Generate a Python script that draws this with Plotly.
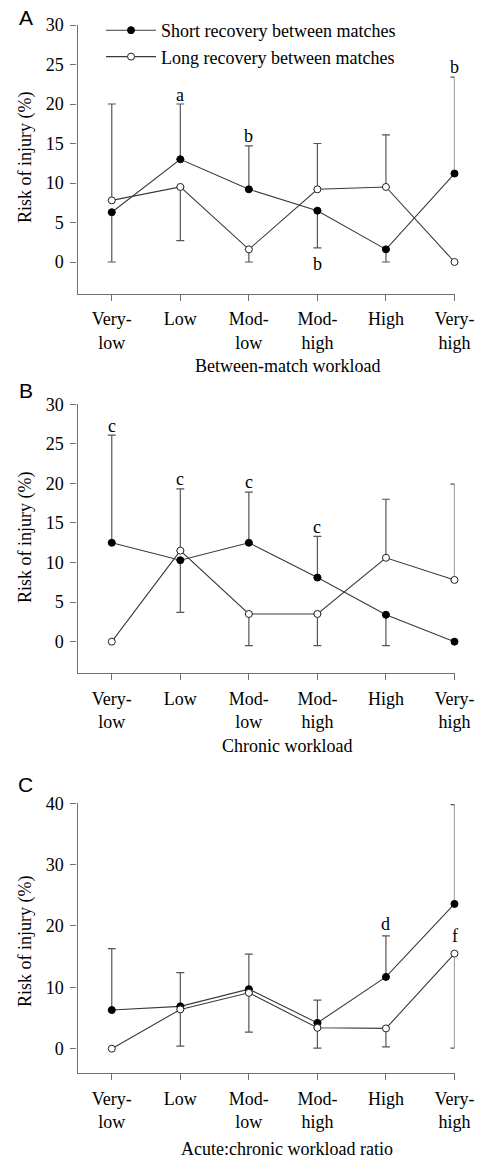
import plotly.graph_objects as go

# ---------------- data ----------------
categories = ["Very-<br>low", "Low", "Mod-<br>low", "Mod-<br>high", "High", "Very-<br>high"]
series_names = ["Short recovery between matches", "Long recovery between matches"]

# Panel A: between-match workload
a_short = [6.3, 13.0, 9.2, 6.5, 1.6, 11.2]
a_long = [7.8, 9.5, 1.6, 9.2, 9.5, 0.0]
a_short_upper = [None, 20.0, 14.7, None, None, 23.4]
a_short_lower = [0.0, None, None, 1.8, 0.0, None]
a_long_upper = [20.0, None, None, 15.0, 16.1, None]
a_long_lower = [None, 2.7, 0.0, None, None, None]
a_letters = [("a", 1, 21.2), ("b", 2, 15.9), ("b", 3, -0.2), ("b", 5, 24.7)]

# Panel B: chronic workload
b_short = [12.5, 10.3, 12.5, 8.1, 3.4, 0.0]
b_long = [0.0, 11.5, 3.5, 3.5, 10.6, 7.8]
b_short_upper = [26.1, None, 18.9, 13.3, None, None]
b_short_lower = [None, 3.7, None, None, -0.5, None]
b_long_upper = [None, 19.3, None, None, 18.0, 19.9]
b_long_lower = [None, None, -0.5, -0.5, None, None]
b_letters = [("c", 0, 27.2), ("c", 1, 20.5), ("c", 2, 20.2), ("c", 3, 14.5)]

# Panel C: acute:chronic workload ratio
c_short = [6.3, 6.9, 9.7, 4.2, 11.7, 23.6]
c_long = [0.0, 6.4, 9.1, 3.4, 3.3, 15.5]
c_short_upper = [16.3, 12.4, 15.4, 7.9, 18.4, 39.8]
c_short_lower = [None, None, None, None, None, None]
c_long_upper = [None, None, None, None, None, None]
c_long_lower = [None, 0.4, 2.7, 0.1, 0.3, 0.1]
c_letters = [("d", 4, 20.3), ("e", 5, 41.4), ("f", 5, 18.3)]

y_ticks_ab = [0, 5, 10, 15, 20, 25, 30]
y_ticks_c = [0, 10, 20, 30, 40]
x_titles = ["Between-match workload", "Chronic workload", "Acute:chronic workload ratio"]
y_title = "Risk of injury (%)"
panel_letters = ["A", "B", "C"]

# ---------------- layout helpers ----------------
W, H = 483, 1161
def fx(p):
    return p / W
def fy(p):
    return 1 - p / H

SERIF = "Liberation Serif"
FS = 18
AXCOL = "#707070"
LINECOL = "#3a3a3a"
ERRCOL = "#555555"

fig = go.Figure()

panels = [
    dict(short=a_short, long=a_long, su=a_short_upper, sl=a_short_lower,
         lu=a_long_upper, ll=a_long_lower, letters=a_letters, yr=[-4, 30],
         yt=y_ticks_ab, dom=[fy(293.6), fy(25)], xt_y=366, yt_y=158, pl_y=17.5),
    dict(short=b_short, long=b_long, su=b_short_upper, sl=b_short_lower,
         lu=b_long_upper, ll=b_long_lower, letters=b_letters, yr=[-4, 30],
         yt=y_ticks_ab, dom=[fy(673.3), fy(404.3)], xt_y=746, yt_y=538, pl_y=390.5),
    dict(short=c_short, long=c_long, su=c_short_upper, sl=c_short_lower,
         lu=c_long_upper, ll=c_long_lower, letters=c_letters, yr=[-4, 40],
         yt=y_ticks_c, dom=[fy(1073.2), fy(803.3)], xt_y=1149, yt_y=942, pl_y=784.5),
]

annotations = []
x_idx = list(range(len(categories)))

for i, p in enumerate(panels):
    n = "" if i == 0 else str(i + 1)
    xa, ya = "x" + n, "y" + n

    # error bars (drawn first so markers cover them)
    for vals, upper, lower in [(p["short"], p["su"], p["sl"]), (p["long"], p["lu"], p["ll"])]:
        for bound, is_up in [(upper, True), (lower, False)]:
            xs, ys, plus, minus = [], [], [], []
            for k in x_idx:
                if bound[k] is None:
                    continue
                xs.append(k)
                ys.append(vals[k])
                if is_up:
                    plus.append(bound[k] - vals[k]); minus.append(0)
                else:
                    plus.append(0); minus.append(vals[k] - bound[k])
            if not xs:
                continue
            fig.add_trace(go.Scatter(
                x=xs, y=ys, xaxis=xa, yaxis=ya, mode="markers",
                marker=dict(size=1, opacity=0), showlegend=False, hoverinfo="skip",
                cliponaxis=False,
                error_y=dict(type="data", symmetric=False, array=plus, arrayminus=minus,
                             color=ERRCOL, thickness=1.2, width=4)))

    # series lines
    fig.add_trace(go.Scatter(
        x=x_idx, y=p["short"], xaxis=xa, yaxis=ya, mode="lines+markers",
        name=series_names[0], showlegend=(i == 0), cliponaxis=False,
        line=dict(color=LINECOL, width=1.1),
        marker=dict(symbol="circle", size=7, color="black", line=dict(color="black", width=1))))
    fig.add_trace(go.Scatter(
        x=x_idx, y=p["long"], xaxis=xa, yaxis=ya, mode="lines+markers",
        name=series_names[1], showlegend=(i == 0), cliponaxis=False,
        line=dict(color=LINECOL, width=1.1),
        marker=dict(symbol="circle", size=7, color="white", line=dict(color="#222222", width=1))))

    common_axis = dict(showline=True, linecolor=AXCOL, linewidth=1.3, ticks="outside",
                       ticklen=6, tickcolor=AXCOL, tickwidth=1.3, showgrid=False,
                       zeroline=False, tickfont=dict(family=SERIF, size=FS, color="black"))
    fig.update_layout(**{
        "xaxis" + n: dict(common_axis, domain=[fx(77.5), fx(454.5)], range=[-0.5, 5],
                          tickmode="array", tickvals=x_idx, ticktext=categories,
                          anchor=ya, ticklabelstandoff=3),
        "yaxis" + n: dict(common_axis, domain=p["dom"], range=p["yr"],
                          tickmode="array", tickvals=p["yt"],
                          anchor=xa, ticklabelstandoff=3),
    })

    for (txt, xk, yv) in p["letters"]:
        annotations.append(dict(text=txt, x=xk, y=yv, xref=xa, yref=ya, showarrow=False,
                                font=dict(family=SERIF, size=FS, color="black"),
                                xanchor="center", yanchor="middle"))
    annotations.append(dict(text=x_titles[i], x=fx(287), y=fy(p["xt_y"]), xref="paper",
                            yref="paper", showarrow=False, xanchor="center", yanchor="middle",
                            font=dict(family=SERIF, size=FS, color="black")))
    annotations.append(dict(text=y_title, x=fx(25), y=fy(p["yt_y"]), xref="paper",
                            yref="paper", showarrow=False, textangle=-90,
                            xanchor="center", yanchor="middle",
                            font=dict(family=SERIF, size=FS, color="black")))
    annotations.append(dict(text=panel_letters[i], x=fx(25.5), y=fy(p["pl_y"]), xref="paper",
                            yref="paper", showarrow=False, xanchor="center", yanchor="middle",
                            font=dict(family="Liberation Sans", size=21, color="black")))

fig.update_layout(
    width=W, height=H, autosize=False, margin=dict(l=0, r=0, t=0, b=0, autoexpand=False),
    paper_bgcolor="white", plot_bgcolor="white",
    font=dict(family=SERIF, size=FS, color="black"),
    annotations=annotations,
    legend=dict(x=fx(101), y=fy(12), xanchor="left", yanchor="top",
                bgcolor="rgba(0,0,0,0)", font=dict(family=SERIF, size=FS, color="black"),
                itemwidth=50, tracegroupgap=0),
    showlegend=True,
)

fig.write_html(
    "out.html",
    config={"responsive": False, "displayModeBar": False},
    post_script="document.body.style.margin='0';document.body.style.padding='0';"
                "document.body.style.overflow='hidden';",
)
